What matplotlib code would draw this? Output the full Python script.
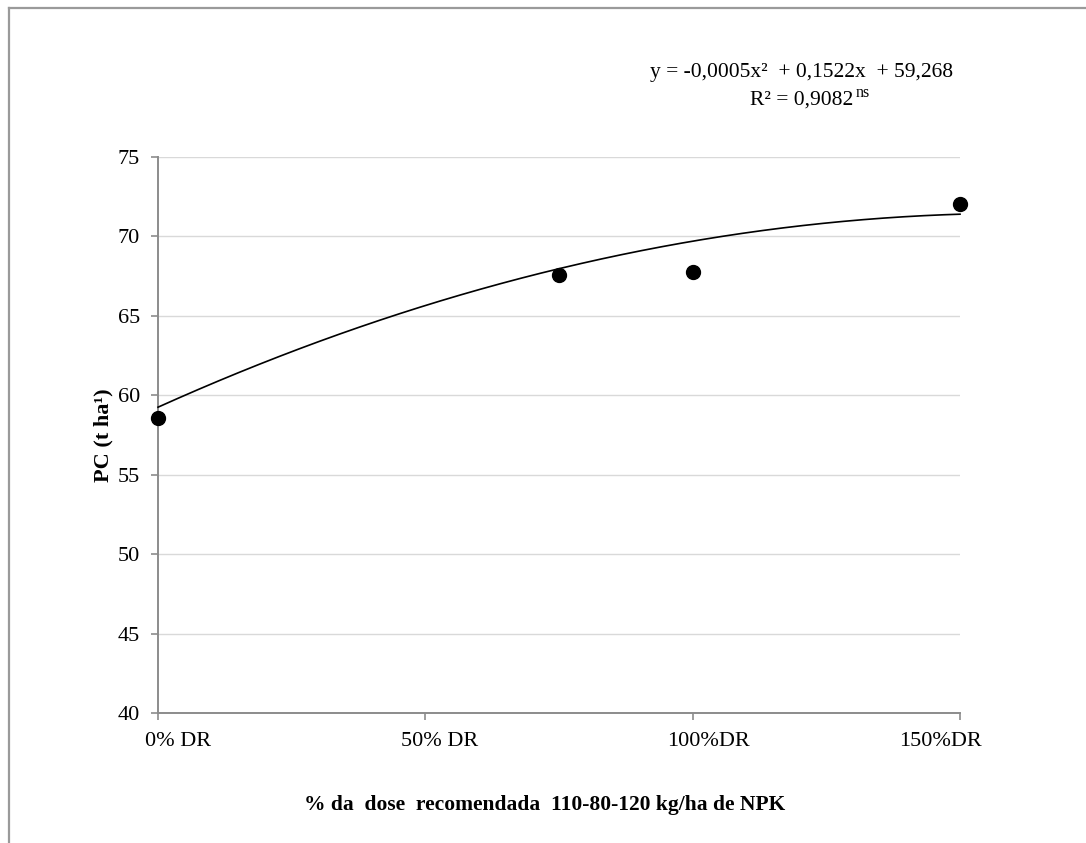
import matplotlib
matplotlib.use("Agg")
import matplotlib.pyplot as plt
import matplotlib.transforms as mtransforms
from matplotlib.lines import Line2D
import numpy as np

# dose (% of recommended) used for the trendline fit
dose = [0, 50, 100, 150]
# horizontal position where each marker is drawn on the chart
marker_pos = [0, 75, 100, 150]
pc = [58.6, 67.6, 67.75, 72.05]
tick_labels = ["0% DR", "50% DR", "100%DR", "150%DR"]
y_ticks = [40, 45, 50, 55, 60, 65, 70, 75]

plt.rcParams.update({
    "font.family": ["Liberation Serif", "DejaVu Serif"],
})

fig = plt.figure(figsize=(10.86, 8.43), dpi=100)
ax = fig.add_axes([158 / 1086, 1 - 713 / 843, (960 - 158) / 1086, (713 - 157) / 843])

ax.set_xlim(0, 150)
ax.set_ylim(40, 75)
ax.set_yticks(y_ticks)
ax.set_yticklabels([str(v) for v in y_ticks])
ax.set_xticks(dose)
ax.set_xticklabels(tick_labels)

ax.grid(axis="y", color="#d9d9d9", linewidth=1.0)
ax.set_axisbelow(True)
for side in ["top", "right"]:
    ax.spines[side].set_visible(False)
for side in ["left", "bottom"]:
    ax.spines[side].set_color("#8c8c8c")
    ax.spines[side].set_linewidth(1.4)
ax.tick_params(axis="both", direction="out", length=5, width=1.2, color="#8c8c8c",
               labelsize=16, colors="black")
ax.tick_params(axis="y", pad=8)
ax.tick_params(axis="x", pad=9)

# nudge x tick labels like the original
shifts = [20, 14, 16, -20]
for lab, dx in zip(ax.get_xticklabels(), shifts):
    lab.set_transform(lab.get_transform() + mtransforms.ScaledTranslation(dx / 100, 0, fig.dpi_scale_trans))

# quadratic trendline
coef = np.polyfit(dose, pc, 2)
xs = np.linspace(0, 150, 200)
ax.plot(xs, np.polyval(coef, xs), color="black", linewidth=1.2, zorder=3, clip_on=False)
ax.plot(marker_pos, pc, "o", color="black", markersize=10, zorder=4, clip_on=False)

fig.text(103 / 1086, 1 - 435 / 843, "PC (t ha\u00b9)", fontsize=16, fontweight="bold",
         rotation=90, ha="center", va="center")
fig.text(545 / 1086, 1 - 805 / 843, "% da  dose  recomendada  110-80-120 kg/ha de NPK",
         fontsize=15.5, fontweight="bold", ha="center", va="center")

fig.text(953 / 1086, 1 - 73 / 843, "y = -0,0005x\u00b2  + 0,1522x  + 59,268",
         fontsize=15.5, ha="right", va="center")
fig.text(853 / 1086, 1 - 100 / 843, "R\u00b2 = 0,9082", fontsize=15.5, ha="right", va="center")
fig.text(856 / 1086, 1 - 93 / 843, "ns", fontsize=11.5, ha="left", va="center")

# chart frame (only left and top edges are inside the image)
fig.add_artist(Line2D([9 / 1086, 9 / 1086], [0, 1 - 8 / 843], color="#9a9a9a", linewidth=1.6,
                      transform=fig.transFigure))
fig.add_artist(Line2D([9 / 1086, 1], [1 - 8 / 843, 1 - 8 / 843], color="#9a9a9a", linewidth=1.6,
                      transform=fig.transFigure))

fig.savefig("out.png", dpi=100)
